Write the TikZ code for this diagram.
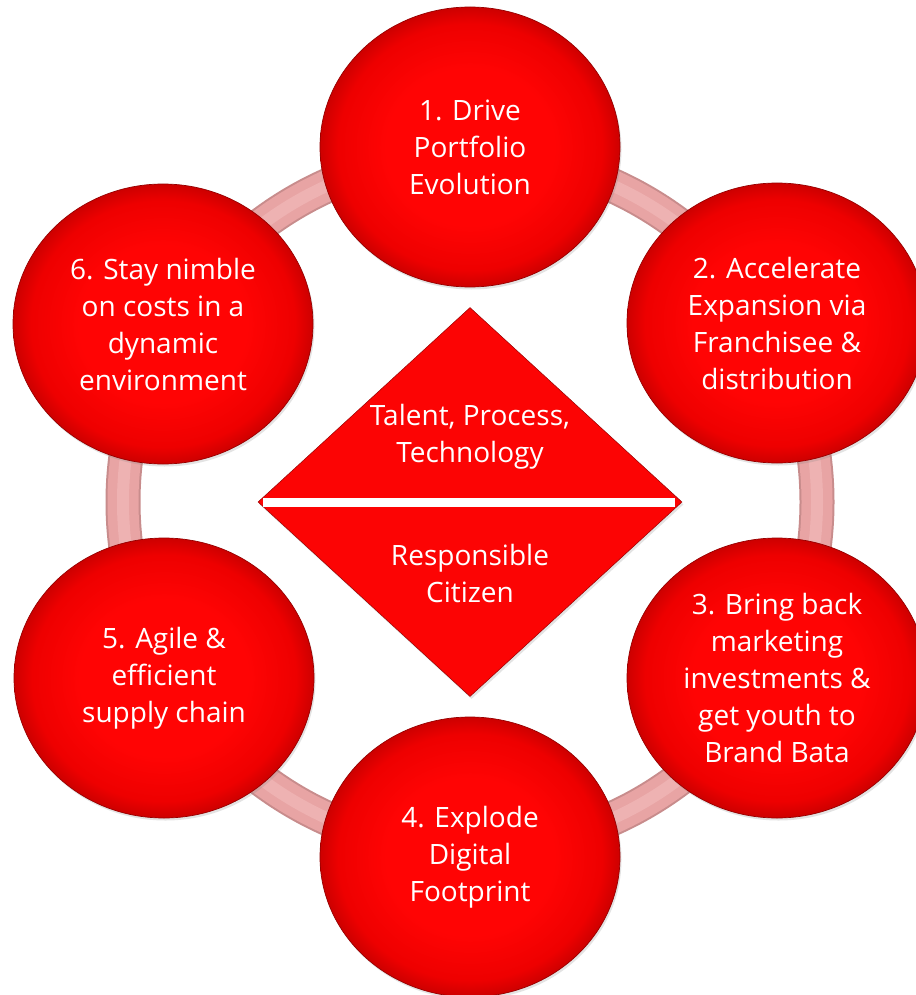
\documentclass[tikz,border=0pt]{standalone}
\usepackage{fontspec}
\setmainfont{Open Sans}
\usetikzlibrary{shapes.geometric,shadows}
\definecolor{ringedge}{RGB}{200,140,140}
\definecolor{ringfill}{RGB}{232,164,164}
\definecolor{ringhi}{RGB}{238,178,178}
\definecolor{redin}{RGB}{255,4,4}
\definecolor{redmid}{RGB}{238,0,0}
\definecolor{redout}{RGB}{205,0,0}
\definecolor{rededge}{RGB}{150,0,0}
\definecolor{dred}{RGB}{252,4,4}
\pgfdeclareradialshading{ballred}{\pgfpoint{0bp}{0bp}}{color(0bp)=(redin); color(14bp)=(redin); color(22bp)=(redmid); color(25bp)=(redout); color(50bp)=(redout)}
\tikzset{
  goal/.style={ellipse, minimum width=300pt, minimum height=280pt, inner sep=0pt,
    draw=rededge, line width=0.7pt, shading=ballred, shade,
    text=white, align=center, font=\fontsize{28}{37}\selectfont,
    drop shadow={opacity=0.22, shadow xshift=1.5pt, shadow yshift=-2.5pt}},
  centerbox/.style={diamond, minimum width=424pt, minimum height=389pt, inner sep=0pt,
    fill=dred, draw=rededge, line width=0.5pt,
    drop shadow={opacity=0.22, shadow xshift=1.5pt, shadow yshift=-2.5pt}},
  dtext/.style={text=white, align=center, font=\fontsize{28}{37}\selectfont},
  divider/.style={fill=white, minimum width=412pt, minimum height=9pt, inner sep=0pt}
}
\begin{document}
\begin{tikzpicture}[x=1pt,y=-1pt]
\useasboundingbox (0,0) rectangle (915,995);
\fill[white] (0,0) rectangle (915,995);
% ring
\draw[ringedge, line width=35pt] (470,502) circle[radius=347];
\draw[ringfill, line width=31pt] (470,502) circle[radius=347];
\draw[ringhi, line width=12pt] (470,502) circle[radius=347];
% centre diamond
\node[centerbox] (d) at (470,502) {};
\node[divider] (bar) at (469,502.5) {};
\node[dtext] (t1) at (470,437) {Talent, Process,\\Technology};
\node[dtext] (t2) at (470,573) {Responsible\\Citizen};
% goals
\node[goal] (c1) at (470,147) {1. Drive\\Portfolio\\Evolution};
\node[goal] (c2) at (777,323) {2. Accelerate\\Expansion via\\Franchisee \&\\distribution};
\node[goal] (c3) at (777,678) {3. Bring back\\marketing\\investments \&\\get youth to\\Brand Bata};
\node[goal] (c4) at (470,857) {4. Explode\\Digital\\Footprint};
\node[goal] (c5) at (164,678) {5. Agile \&\\efficient\\supply chain};
\node[goal] (c6) at (163,324) {6. Stay nimble\\on costs in a\\dynamic\\environment};
\end{tikzpicture}
\end{document}
